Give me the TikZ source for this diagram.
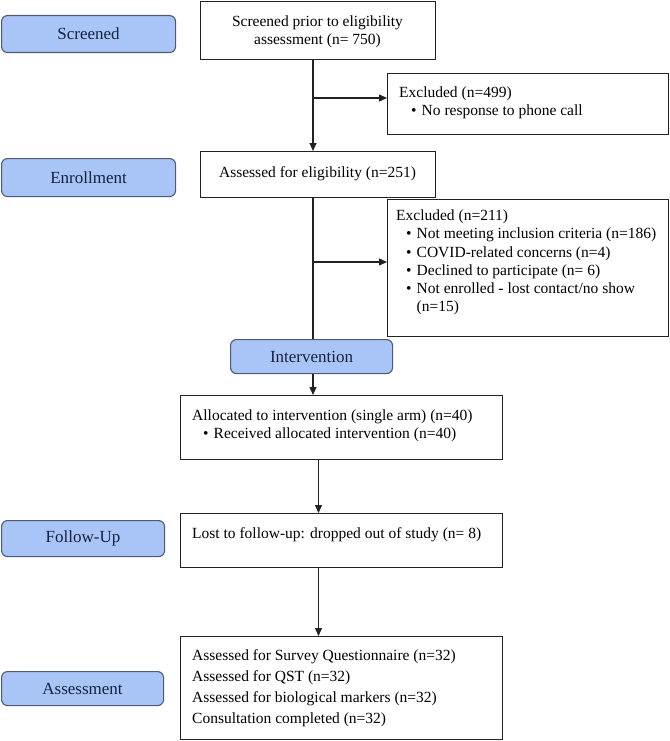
\documentclass[tikz,border=0pt]{standalone}
\usepackage{fontspec}
\setmainfont{Liberation Serif}
\usetikzlibrary{arrows.meta}
\definecolor{lblfill}{HTML}{A9C5F7}
\definecolor{lbldraw}{HTML}{4F5B72}
\definecolor{lbltext}{HTML}{16213F}
\definecolor{boxdraw}{HTML}{222222}
\newcommand\bl{\makebox[10.5pt][l]{•}}
\begin{document}
\begin{tikzpicture}[x=1pt,y=-1pt,
  box/.style={draw=boxdraw, line width=1.1pt, anchor=north west, inner sep=0pt},
  lbl/.style={draw=lbldraw, fill=lblfill, line width=1.1pt, rounded corners=6pt, text=lbltext,
    font=\fontsize{17}{20}\selectfont, inner sep=0pt, anchor=north west},
  txt/.style={font=\fontsize{15.5}{18.3}\selectfont, inner sep=0pt, align=left, anchor=west},
  ctxt/.style={font=\fontsize{15.5}{18.3}\selectfont, inner sep=0pt, align=center},
  arr/.style={-{Triangle[length=8pt,width=7pt]}, line width=1.1pt, draw=boxdraw},
  ln/.style={line width=1.1pt, draw=boxdraw}]
\useasboundingbox[fill=white] (0,0) rectangle (669,741);

% phase labels
\node[lbl, minimum width=174pt, minimum height=37pt] (L1) at (1,15) {Screened};
\node[lbl, minimum width=174pt, minimum height=38pt] (L2) at (1,158) {Enrollment};
\node[lbl, minimum width=162pt, minimum height=34pt] (L3) at (230,339) {Intervention};
\node[lbl, minimum width=163pt, minimum height=36pt] (L4) at (1,520) {Follow-Up};
\node[lbl, minimum width=162pt, minimum height=34pt] (L5) at (1,671) {Assessment};

% boxes
\node[box, minimum width=235pt, minimum height=58pt] (B1) at (200,1) {};
\node[box, minimum width=281pt, minimum height=61pt] (E1) at (387,73) {};
\node[box, minimum width=235pt, minimum height=46pt] (B2) at (200,151) {};
\node[box, minimum width=281pt, minimum height=137pt] (E2) at (387,199) {};
\node[box, minimum width=322pt, minimum height=64pt] (B3) at (180,395) {};
\node[box, minimum width=322pt, minimum height=54pt] (B4) at (180,513) {};
\node[box, minimum width=322pt, minimum height=103pt] (B5) at (180,636) {};

% texts
\node[ctxt] (T1) at (317.5,31.5) {Screened prior to eligibility\\assessment (n= 750)};
\node[txt] (T2) at (399,103) {Excluded (n=499)\\\hspace*{12pt}\bl No response to phone call};
\node[ctxt] (T3) at (317.5,174) {Assessed for eligibility (n=251)};
\node[txt] (T4) at (396,262.5) {Excluded (n=211)\\
\hspace*{10pt}\bl Not meeting inclusion criteria (n=186)\\
\hspace*{10pt}\bl COVID-related concerns (n=4)\\
\hspace*{10pt}\bl Declined to participate (n= 6)\\
\hspace*{10pt}\bl Not enrolled - lost contact/no show\\
\hspace*{20.5pt}(n=15)};
\node[txt] (T5) at (192,426) {Allocated to intervention (single arm) (n=40)\\
\hspace*{11pt}\bl Received allocated intervention (n=40)};
\node[txt] (T6) at (192,535) {Lost to follow-up: dropped out of study (n= 8)};
\node[txt, font=\fontsize{15.5}{21}\selectfont] (T7) at (192,688.5) {Assessed for Survey Questionnaire (n=32)\\
Assessed for QST (n=32)\\
Assessed for biological markers (n=32)\\
Consultation completed (n=32)};

% connectors
\coordinate (V1) at (313,0);
\coordinate (V2) at (318.5,0);
\coordinate (J1) at (313,98);
\coordinate (J2) at (313,262);
\draw[arr] (B1.south -| V1) -- (B2.north -| V1);
\draw[arr] (J1) -- (J1 -| E1.west);
\draw[ln] (B2.south -| V1) -- (L3.north -| V1);
\draw[arr] (J2) -- (J2 -| E2.west);
\draw[arr] (L3.south -| V1) -- (B3.north -| V1);
\draw[arr] (B3.south -| V2) -- (B4.north -| V2);
\draw[arr] (B4.south -| V2) -- (B5.north -| V2);
\end{tikzpicture}
\end{document}
